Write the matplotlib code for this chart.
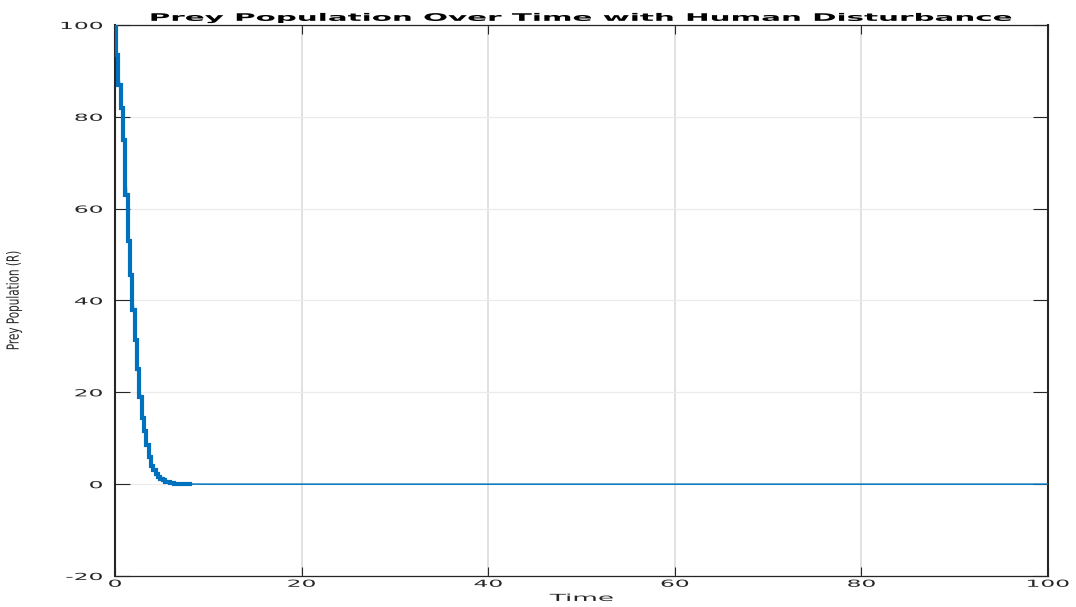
import matplotlib
matplotlib.use("Agg")
import matplotlib.pyplot as plt
from matplotlib.patheffects import AbstractPathEffect
from matplotlib.transforms import Affine2D

# prey population R(t), read at a quarter time unit through the crash
time = [0.0, 0.25, 0.5, 0.75, 1.0, 1.25, 1.5, 1.75, 2.0, 2.25, 2.5, 2.75,
        3.0, 3.25, 3.5, 3.75, 4.0, 4.25, 4.5, 4.75, 5.0, 5.25, 5.5, 5.75,
        6.0, 6.25, 6.5, 6.75, 7.0, 7.5, 8.0, 9.0, 10.0, 100.0]
prey = [100.0, 93.5, 87.0, 82.0, 75.0, 63.0, 53.0, 45.5, 38.0, 31.5, 25.0, 19.0,
        14.5, 11.5, 8.5, 6.0, 4.0, 3.0, 2.2, 1.6, 1.1, 0.8, 0.55, 0.4,
        0.28, 0.2, 0.14, 0.1, 0.07, 0.04, 0.02, 0.01, 0.0, 0.0]
crash_end = 31  # samples belonging to the disturbed, jagged transient

x_ticks = [0, 20, 40, 60, 80, 100]
y_ticks = [-20, 0, 20, 40, 60, 80, 100]

BLUE = "#0072BD"
INK = "#262626"


class WideText(AbstractPathEffect):
    """Draw text glyphs widened along the screen x direction."""

    def __init__(self, sx, anchor="center"):
        super().__init__()
        self.sx = sx
        self.anchor = anchor

    def draw_path(self, renderer, gc, tpath, affine, rgbFace=None):
        bb = tpath.get_extents(affine)
        if self.anchor == "right":
            cx = bb.x1
        elif self.anchor == "left":
            cx = bb.x0
        else:
            cx = 0.5 * (bb.x0 + bb.x1)
        widen = Affine2D().translate(-cx, 0).scale(self.sx, 1).translate(cx, 0)
        renderer.draw_path(gc, tpath, affine + widen, rgbFace)


fig = plt.figure(figsize=(10.76, 6.07), dpi=100)
ax = fig.add_axes([115 / 1076, 1 - 576 / 607, 933 / 1076, 551 / 607])

# thin trace over the whole run, thick stepped trace through the crash
ax.plot(time, prey, color=BLUE, lw=1.1, zorder=3)
ax.plot(time[:crash_end], prey[:crash_end], color=BLUE, lw=3.0,
        drawstyle="steps-mid", solid_joinstyle="miter", zorder=3)

ax.set_xlim(0, 100)
ax.set_ylim(-20, 100)

ax.set_xticks(x_ticks, labels=[str(v) for v in x_ticks], fontsize=7,
              color=INK, path_effects=[WideText(2.4)])
ax.set_yticks(y_ticks, labels=[str(v) for v in y_ticks], fontsize=7,
              color=INK, path_effects=[WideText(2.4, "right")])
ax.tick_params(axis="x", direction="in", length=6.5, width=0.8, color=INK,
               top=True, pad=2)
ax.tick_params(axis="y", direction="in", length=11, width=0.8, color=INK,
               right=True, pad=9)

# grid: verticals read heavier than horizontals
ax.xaxis.grid(True, color="#dcdcdc", lw=1.2)
ax.yaxis.grid(True, color="#ebebeb", lw=0.9)
ax.set_axisbelow(True)

for side in ("top", "bottom"):
    ax.spines[side].set_linewidth(0.9)
    ax.spines[side].set_color(INK)
for side in ("left", "right"):
    ax.spines[side].set_linewidth(1.5)
    ax.spines[side].set_color(INK)

ax.set_title("Prey Population Over Time with Human Disturbance", fontsize=7.5,
             fontweight="bold", color="black", pad=3,
             path_effects=[WideText(2.82)])
ax.set_xlabel("Time", fontsize=7, color=INK, labelpad=3,
              path_effects=[WideText(2.7)])
ax.set_ylabel("Prey Population (R)", fontsize=7.5, color=INK,
              path_effects=[WideText(1.6)])
ax.yaxis.set_label_coords(-0.103, 0.5)

fig.savefig("out.png", dpi=100)
